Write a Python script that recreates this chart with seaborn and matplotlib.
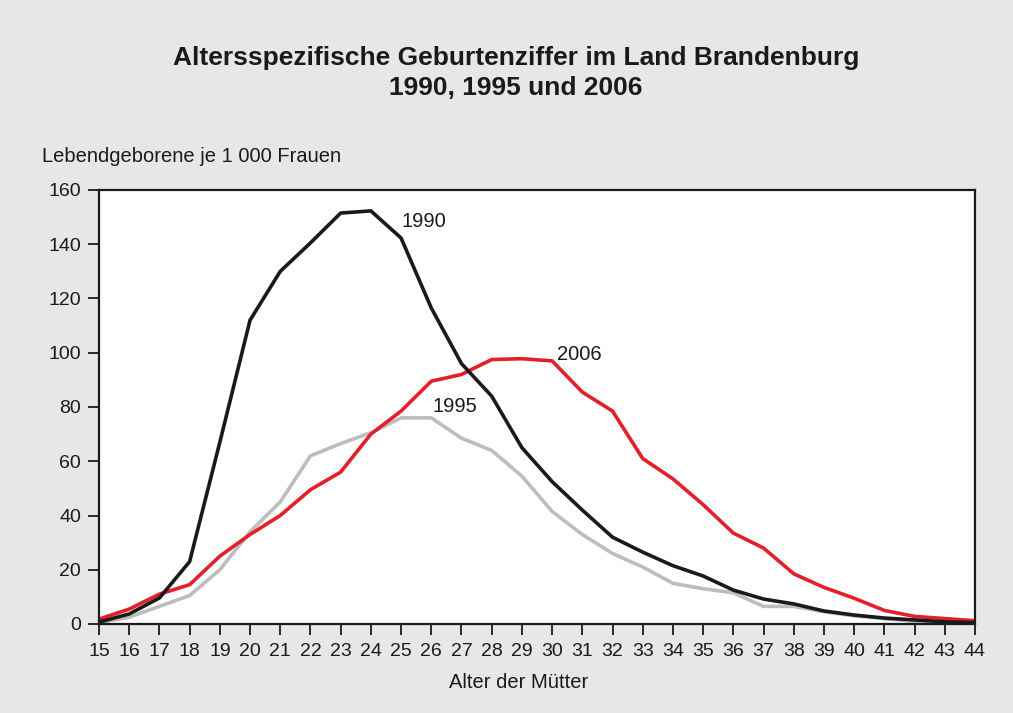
import matplotlib
matplotlib.use("Agg")
import matplotlib.pyplot as plt
import pandas as pd
import seaborn as sns

# Alter der Mütter
alter = list(range(15, 45))

# Lebendgeborene je 1 000 Frauen
werte_1990 = [0.7, 3.7, 9.6, 23, 67, 112, 130, 140.5, 151.5, 152.3, 142.3, 116.5, 96, 84,
              65, 52.5, 42, 32, 26.5, 21.5, 17.7, 12.5, 9.2, 7.4, 4.8, 3.3, 2.2, 1.5, 0.8, 0.5]
werte_1995 = [0.5, 2.5, 6.5, 10.5, 20, 34, 45, 62, 66.5, 70.5, 76, 76, 68.5, 64,
              54.5, 41.5, 33, 26, 21, 15, 13, 11.5, 6.5, 6.5, 4.5, 3, 2, 1, 0.5, 0.3]
werte_2006 = [1.8, 5.5, 11, 14.5, 25, 33, 40, 49.5, 56, 70, 78.5, 89.5, 92, 97.5,
              97.8, 97, 85.5, 78.5, 61, 53.5, 44, 33.5, 28, 18.5, 13.5, 9.5, 5, 2.8, 2, 1.2]

farben = {"1990": "#1a1a1a", "1995": "#bdbdbf", "2006": "#e3202a"}
schwarz = "#1a1a1a"

df = pd.DataFrame({"Alter": alter, "1990": werte_1990, "1995": werte_1995, "2006": werte_2006})
df = df.melt(id_vars="Alter", var_name="Jahr", value_name="Rate")

sns.set_style("white")
plt.rcParams["font.family"] = ["Liberation Sans", "DejaVu Sans"]
plt.rcParams["text.color"] = schwarz

fig = plt.figure(figsize=(10.13, 7.13), dpi=100, facecolor="#e6e7e9")
ax = fig.add_axes([99 / 1013, 1 - 624 / 713, 876 / 1013, 434 / 713])
ax.set_facecolor("white")

sns.lineplot(data=df, x="Alter", y="Rate", hue="Jahr", hue_order=["1995", "2006", "1990"],
             palette=farben, linewidth=2.6, legend=False, ax=ax)

ax.set_xlim(15, 44)
ax.set_ylim(0, 160)
ax.set_xticks(alter)
ax.set_yticks(range(0, 161, 20))
ax.tick_params(direction="out", length=8, width=1.3, color=schwarz, labelcolor=schwarz,
               labelsize=14, bottom=True, left=True)
ax.tick_params(axis="x", pad=6)
ax.tick_params(axis="y", pad=5)
for s in ax.spines.values():
    s.set_linewidth(1.6)
    s.set_color(schwarz)
ax.set_xlabel("")
ax.set_ylabel("")

# Beschriftung der Linien
ax.text(25, 146.5, "1990", fontsize=14.5)
ax.text(30.15, 97.5, "2006", fontsize=14.5)
ax.text(26.05, 78, "1995", fontsize=14.5)

fig.text(519 / 1013, 1 - 683 / 713, "Alter der Mütter", fontsize=14.5, ha="center", va="center")
fig.text(42 / 1013, 1 - 157 / 713, "Lebendgeborene je 1 000 Frauen", fontsize=14.5, va="center")
fig.text(516 / 1013, 1 - 73 / 713, "Altersspezifische Geburtenziffer im Land Brandenburg\n1990, 1995 und 2006",
         fontsize=19, fontweight="bold", ha="center", va="center", linespacing=1.35)

fig.savefig("out.png", dpi=100, facecolor=fig.get_facecolor())
